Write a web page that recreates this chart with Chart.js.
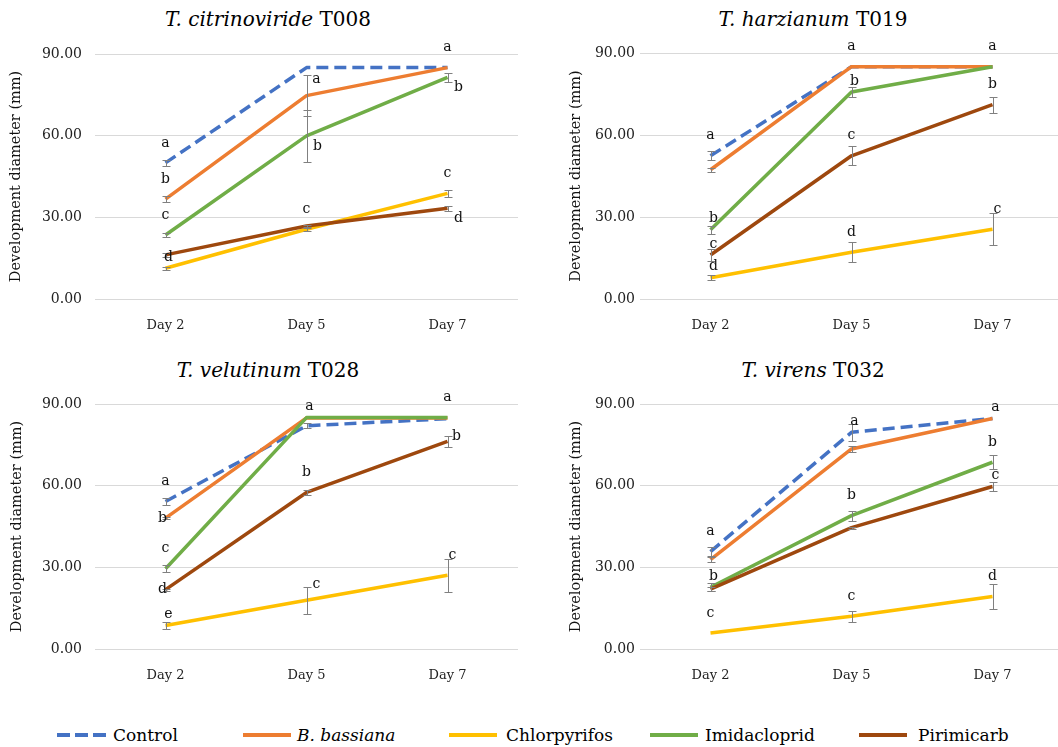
<!DOCTYPE html>
<html>
<head>
<meta charset="utf-8">
<script src="https://cdn.jsdelivr.net/npm/chart.js@4.4.1/dist/chart.umd.min.js"></script>
<style>
  body { margin: 0; width: 1058px; height: 747px; overflow: hidden; background: #fff; position: relative;
         font-family: "DejaVu Serif", serif; }
  canvas { position: absolute; }
  .ttl { position: absolute; font-size: 20px; line-height: 26px; white-space: nowrap; transform: translateX(-50%); color: #000; }
  .lg-line { position: absolute; height: 4px; top: 733px; }
  .lg-txt { position: absolute; top: 723px; font-size: 17px; line-height: 24px; white-space: nowrap; color: #000; }
</style>
</head>
<body>
<div class="ttl" style="left:268px;top:6px"><i>T. citrinoviride</i> T008</div>
<div class="ttl" style="left:813px;top:6px"><i>T. harzianum</i> T019</div>
<div class="ttl" style="left:268px;top:357px"><i>T. velutinum</i> T028</div>
<div class="ttl" style="left:813px;top:357px"><i>T. virens</i> T032</div>

<canvas id="c1" width="530" height="310" style="left:0;top:30px;width:530px;height:310px"></canvas>
<canvas id="c2" width="540" height="310" style="left:530px;top:30px;width:540px;height:310px"></canvas>
<canvas id="c3" width="530" height="310" style="left:0;top:380px;width:530px;height:310px"></canvas>
<canvas id="c4" width="540" height="310" style="left:530px;top:380px;width:540px;height:310px"></canvas>

<div id="legend"></div>

<script>
const days = ['Day 2', 'Day 5', 'Day 7'];
const treatments = ['Control', 'B. bassiana', 'Chlorpyrifos', 'Imidacloprid', 'Pirimicarb'];
const colors = ['#4472C4', '#ED7D31', '#FFC000', '#70AD47', '#9E480E'];
const yTicks = [0, 30, 60, 90];
const serif = 'DejaVu Serif';

// order of rows: Control, B. bassiana, Chlorpyrifos, Imidacloprid, Pirimicarb
const t008Means = [[50.0, 85.0, 85.0], [36.7, 74.7, 85.0], [11.3, 25.6, 38.8], [23.5, 59.9, 81.4], [16.2, 26.8, 33.3]];
const t008Err   = [[1.1, 0, 0], [1.1, 7.5, 0], [0.6, 0.5, 1.2], [0.6, 9.7, 1.8], [0.6, 0.5, 1.0]];
const t019Means = [[52.4, 85.0, 85.0], [47.3, 85.0, 85.0], [7.8, 17.1, 25.5], [25.3, 75.7, 85.0], [16.1, 52.4, 71.1]];
const t019Err   = [[1.6, 0, 0], [0.8, 0, 0], [0.8, 3.7, 5.8], [1.4, 1.8, 0], [2.2, 3.5, 2.9]];
const t028Means = [[54.2, 82.0, 84.6], [48.1, 84.9, 84.9], [8.6, 17.9, 27.1], [29.5, 85.0, 85.0], [21.8, 57.5, 76.3]];
const t028Err   = [[1.2, 1.0, 0], [0.5, 0, 0], [1.3, 4.9, 6.1], [1.3, 0, 0], [0.4, 0.9, 2.0]];
const t032Means = [[35.8, 79.6, 84.7], [32.8, 73.5, 84.7], [5.9, 12.0, 19.3], [22.7, 49.0, 68.6], [22.0, 44.6, 59.7]];
const t032Err   = [[1.6, 3.2, 0], [1.0, 1.1, 0], [0, 2.0, 4.5], [1.4, 1.8, 2.6], [0.8, 0.4, 1.5]];

// significance letters: [series, day, letter, placement]
const t008Letters = [[0,0,'a','up'],[1,0,'b','up'],[3,0,'c','up'],[2,0,'d','nearUp'],
  [1,1,'a','rup'],[3,1,'b','rdown'],[2,1,'c','up'],
  [1,2,'a','up'],[3,2,'b','rdown'],[2,2,'c','up'],[4,2,'d','rdown']];
const t019Letters = [[0,0,'a','up'],[3,0,'b','nearUp'],[4,0,'c','nearUp'],[2,0,'d','nearUp'],
  [1,1,'a','up'],[3,1,'b','nearUp'],[4,1,'c','up'],[2,1,'d','up'],
  [1,2,'a','up'],[4,2,'b','up'],[2,2,'c','upr']];
const t028Letters = [[0,0,'a','up'],[1,0,'b','on'],[3,0,'c','up'],[4,0,'d','on'],[2,0,'e','nearUp'],
  [3,1,'a','nearUp'],[4,1,'b','up'],[2,1,'c','rup'],
  [3,2,'a','up'],[4,2,'b','right'],[2,2,'c','upr']];
const t032Letters = [[0,0,'a','up'],[3,0,'b','nearUp'],[2,0,'c','up'],
  [0,1,'a','nearUp'],[3,1,'b','up'],[2,1,'c','up'],
  [1,2,'a','nearUp'],[3,2,'b','up'],[4,2,'c','nearUp'],[2,2,'d','up']];

const offsets = { up: [0, -20], upr: [5, -20], nearUp: [3, -11], rup: [10, -16], rdown: [11, 10], on: [-3, 0], right: [9, -5] };

const extras = {
  id: 'extras',
  afterDatasetsDraw(chart, args, opts) {
    const ctx = chart.ctx;
    const y = chart.scales.y;
    ctx.save();
    ctx.strokeStyle = '#808080';
    ctx.lineWidth = 1;
    chart.data.datasets.forEach((ds, i) => {
      const meta = chart.getDatasetMeta(i);
      ds.err.forEach((e, j) => {
        if (!e) return;
        const px = Math.round(meta.data[j].x) + 0.5;
        const top = Math.round(y.getPixelForValue(ds.data[j] + e)) + 0.5;
        const bot = Math.round(y.getPixelForValue(ds.data[j] - e)) + 0.5;
        ctx.beginPath();
        ctx.moveTo(px, top); ctx.lineTo(px, bot);
        ctx.moveTo(px - 4, top); ctx.lineTo(px + 4, top);
        ctx.moveTo(px - 4, bot); ctx.lineTo(px + 4, bot);
        ctx.stroke();
      });
    });
    ctx.fillStyle = '#111';
    ctx.font = '14px "' + serif + '"';
    ctx.textAlign = 'center';
    ctx.textBaseline = 'middle';
    opts.letters.forEach(([s, d, t, p]) => {
      const pt = chart.getDatasetMeta(s).data[d];
      const o = offsets[p];
      ctx.fillText(t, pt.x + o[0], pt.y + o[1]);
    });
    ctx.restore();
  }
};

function makePanel(id, means, errs, letters, box) {
  const datasets = treatments.map((name, i) => ({
    label: name,
    data: means[i],
    err: errs[i],
    borderColor: colors[i],
    backgroundColor: colors[i],
    borderWidth: 3.5,
    borderDash: i === 0 ? [12, 6] : [],
    borderJoinStyle: 'round',
    pointRadius: 0,
    tension: 0,
    order: treatments.length - i
  }));
  new Chart(document.getElementById(id), {
    type: 'line',
    data: { labels: days, datasets },
    plugins: [extras],
    options: {
      responsive: false,
      animation: false,
      layout: { padding: { top: box.top, right: box.right, left: 0, bottom: 0 } },
      plugins: {
        legend: { display: false },
        tooltip: { enabled: false },
        extras: { letters }
      },
      scales: {
        x: {
          offset: true,
          grid: { display: false },
          border: { display: false },
          ticks: { color: '#222', font: { family: serif, size: 13 }, padding: 11 },
          afterFit: s => { s.height = box.xh; }
        },
        y: {
          min: 0, max: 90,
          afterBuildTicks: s => { s.ticks = yTicks.map(v => ({ value: v })); },
          grid: { color: '#d9d9d9', lineWidth: 1, drawTicks: false },
          border: { display: false },
          ticks: { color: '#222', font: { family: serif, size: 14 }, padding: box.tickPad,
                   callback: v => Number(v).toFixed(2) },
          title: { display: true, text: 'Development diameter (mm)', color: '#111',
                   font: { family: serif, size: 14.5 }, padding: { top: box.titlePad, bottom: 0 } },
          afterFit: s => { s.width = box.yw; }
        }
      }
    }
  });
}

makePanel('c1', t008Means, t008Err, t008Letters, { top: 24, right: 12, xh: 41, yw: 95, tickPad: 13, titlePad: 8 });
makePanel('c2', t019Means, t019Err, t019Letters, { top: 23, right: 7, xh: 41, yw: 110, tickPad: 5, titlePad: 38 });
makePanel('c3', t028Means, t028Err, t028Letters, { top: 24, right: 12, xh: 41, yw: 95, tickPad: 13, titlePad: 9 });
makePanel('c4', t032Means, t032Err, t032Letters, { top: 24, right: 7, xh: 41, yw: 110, tickPad: 5, titlePad: 38 });

// shared legend
const legendLine = [57, 243, 449, 650, 859];
const legendText = [113, 297, 506, 705, 918];
const lg = document.getElementById('legend');
treatments.forEach((name, i) => {
  const ln = document.createElement('div');
  ln.className = 'lg-line';
  ln.style.left = legendLine[i] + 'px';
  ln.style.width = (i === 0 ? 49 : 48) + 'px';
  ln.style.background = i === 0
    ? `repeating-linear-gradient(to right, ${colors[0]} 0 13px, transparent 13px 18px)`
    : colors[i];
  lg.appendChild(ln);
  const tx = document.createElement('div');
  tx.className = 'lg-txt';
  tx.style.left = legendText[i] + 'px';
  if (name === 'B. bassiana') tx.innerHTML = '<i>B. bassiana</i>';
  else tx.textContent = name;
  lg.appendChild(tx);
});
</script>
</body>
</html>
